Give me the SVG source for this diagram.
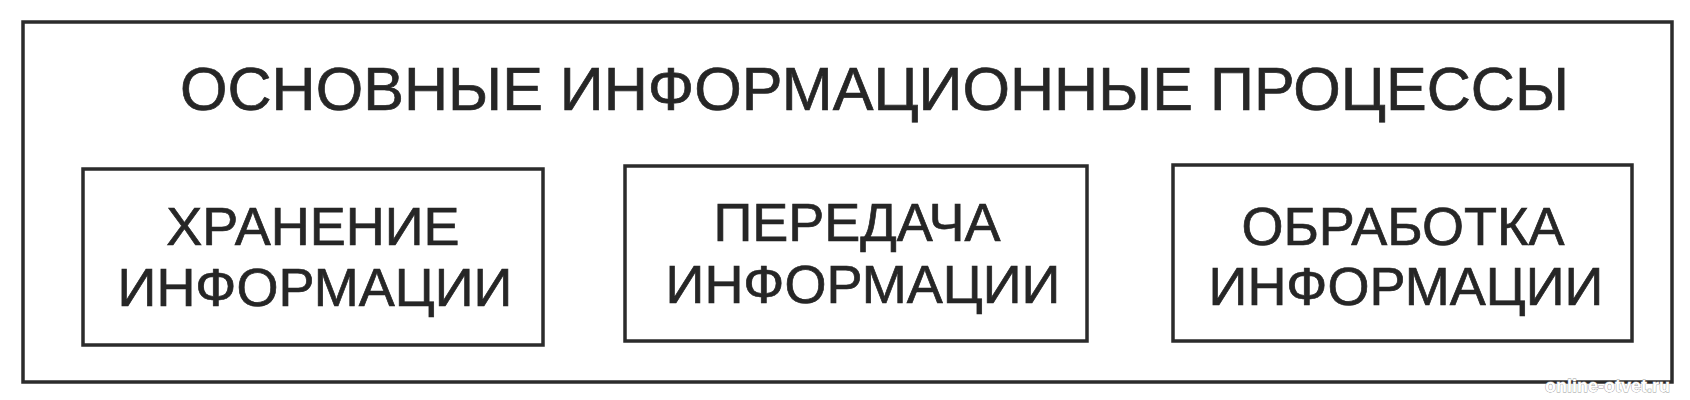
<svg xmlns="http://www.w3.org/2000/svg" width="1690" height="400" viewBox="0 0 1690 400">
<style>
.frame{fill:none;stroke:#2b2b2b;stroke-width:3.5}
.t{font-family:"Liberation Sans",Arial,sans-serif;fill:#262626;stroke:#262626;stroke-width:0.7}
.title{font-size:61px}
.lbl{font-size:54px;text-anchor:middle}
.wm{font-family:"Liberation Sans",Arial,sans-serif;font-size:18px;font-weight:bold;fill:#ffffff;stroke:#9a9a9a;stroke-width:0.8;paint-order:stroke}
</style>
<rect width="1690" height="400" fill="#ffffff"/>
<g id="outer">
<rect class="frame" x="23" y="22" width="1649" height="360"/>
<text class="t title" x="180" y="110" textLength="1389" lengthAdjust="spacingAndGlyphs">ОСНОВНЫЕ ИНФОРМАЦИОННЫЕ ПРОЦЕССЫ</text>
</g>
<g id="connectors"></g>
<g id="storage">
<rect class="frame" x="83" y="169" width="460" height="176"/>
<text class="t lbl" x="313" y="245">ХРАНЕНИЕ</text>
<text class="t lbl" x="315" y="306">ИНФОРМАЦИИ</text>
</g>
<g id="transfer">
<rect class="frame" x="625" y="166" width="462" height="175"/>
<text class="t lbl" x="857" y="241">ПЕРЕДАЧА</text>
<text class="t lbl" x="863" y="303">ИНФОРМАЦИИ</text>
</g>
<g id="processing">
<rect class="frame" x="1173" y="165" width="459" height="176"/>
<text class="t lbl" x="1403" y="245">ОБРАБОТКА</text>
<text class="t lbl" x="1406" y="305">ИНФОРМАЦИИ</text>
</g>
<text class="wm" x="1545" y="392">online-otvet.ru</text>
</svg>
